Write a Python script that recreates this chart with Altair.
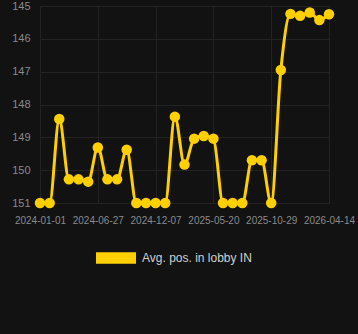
import altair as alt
import pandas as pd

dates = [
    "2024-01-01", "2024-01-31", "2024-03-01", "2024-03-30", "2024-04-29", "2024-05-28",
    "2024-06-27", "2024-07-24", "2024-08-21", "2024-09-17", "2024-10-15", "2024-11-11",
    "2024-12-07", "2025-01-03", "2025-01-31", "2025-02-27", "2025-03-27", "2025-04-23",
    "2025-05-20", "2025-06-16", "2025-07-13", "2025-08-09", "2025-09-05", "2025-10-02",
    "2025-10-29", "2025-11-25", "2025-12-23", "2026-01-19", "2026-02-16", "2026-03-16",
    "2026-04-14",
]
positions = [
    151, 151, 148.44, 150.28, 150.28, 150.35, 149.31, 150.28, 150.28, 149.38,
    151, 151, 151, 151, 148.37, 149.83, 149.04, 148.96, 149.04, 151,
    151, 151, 149.7, 149.7, 151, 146.95, 145.24, 145.3, 145.2, 145.43,
    145.25,
]
tick_dates = ["2024-01-01", "2024-06-27", "2024-12-07", "2025-05-20", "2025-10-29", "2026-04-14"]
y_ticks = [145, 146, 147, 148, 149, 150, 151]
series_name = "Avg. pos. in lobby IN"
yellow = "#FFD000"

df = pd.DataFrame({"date": dates, "pos": positions, "series": series_name})

x_enc = alt.X(
    "date:O",
    sort=dates,
    scale=alt.Scale(type="point", range=[5, 294], padding=0),
    axis=alt.Axis(
        values=tick_dates, labelAngle=0, title=None, ticks=False, domain=False,
        grid=True, gridColor="#232323", labelColor="#8a8a8a", labelFontSize=10,
        labelPadding=12, labelFont="Liberation Sans",
    ),
)
y_enc = alt.Y(
    "pos:Q",
    scale=alt.Scale(domain=[145, 151], reverse=True, nice=False, zero=False),
    axis=alt.Axis(
        values=y_ticks, title=None, ticks=False, domain=False, grid=True,
        gridColor="#232323", labelColor="#8a8a8a", labelFontSize=11,
        labelPadding=5, labelFont="Liberation Sans", format="d",
    ),
)
color_enc = alt.Color(
    "series:N",
    scale=alt.Scale(domain=[series_name], range=[yellow]),
    legend=alt.Legend(
        title=None, orient="none", legendX=61, legendY=232, padding=0,
        symbolType="M-1,-0.29L1,-0.29L1,0.29L-1,0.29Z", symbolSize=1600,
        symbolStrokeWidth=0, symbolFillColor=yellow, symbolOpacity=1,
        labelColor="#d0d0d0", labelFontSize=12, labelFont="Liberation Sans",
        labelOffset=6,
    ),
)

base = alt.Chart(df).encode(x=x_enc, y=y_enc, color=color_enc)
line = base.mark_line(interpolate="monotone", strokeWidth=3)
pts = base.mark_point(filled=True, size=110, opacity=1)

chart = (
    alt.layer(line, pts)
    .properties(
        width=323, height=197, background="#121212",
        padding={"left": 35, "top": 6, "right": 0, "bottom": 131},
        autosize=alt.AutoSizeParams(type="none"),
    )
    .configure_view(strokeWidth=0)
)

chart.save("out.html", embed_options={"renderer": "svg", "actions": False})
